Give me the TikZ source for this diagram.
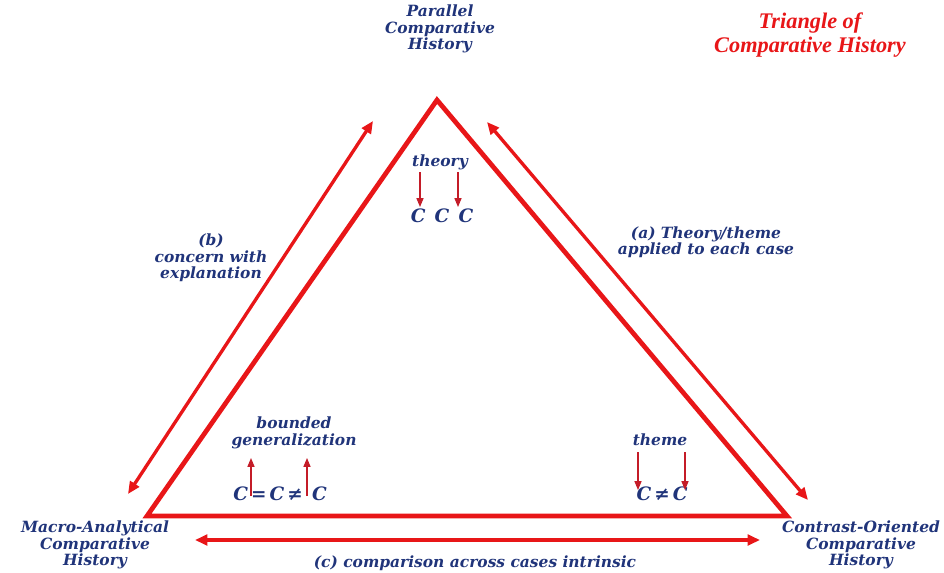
\documentclass[tikz,border=0pt]{standalone}
\usepackage{fontspec}
\usetikzlibrary{arrows.meta}
\newfontfamily\lblfont{DejaVu Serif}
\newfontfamily\ttlfont{Liberation Serif}
\definecolor{navy}{RGB}{32,52,122}
\definecolor{trired}{RGB}{232,22,24}
\definecolor{tipred}{RGB}{196,28,40}

\tikzset{
  lbl/.style={text=navy,font=\lblfont\bfseries\itshape\fontsize{8.8}{9.3}\selectfont,
    align=center,inner sep=0pt},
  cee/.style={text=navy,font=\lblfont\bfseries\itshape\fontsize{10.5}{11}\selectfont,inner sep=0pt},
  ttl/.style={text=trired,font=\ttlfont\bfseries\itshape\fontsize{12.7}{13.6}\selectfont,
    align=center,inner sep=0pt},
  outer/.style={trired,line width=1.9pt,
    {Triangle[length=7pt,width=6pt]}-{Triangle[length=7pt,width=6pt]}},
  inner/.style={tipred,line width=0.6pt,-{Triangle[length=5pt,width=4pt]}}
}

\begin{document}
\begin{tikzpicture}[x=0.02cm,y=-0.02cm]
\useasboundingbox (0,0) rectangle (944,572);

% triangle
\coordinate (top) at (437,100);
\coordinate (lft) at (147,516);
\coordinate (rgt) at (787,516);
\draw[trired,line width=2.7pt,line join=miter] (top) -- (lft) -- (rgt) -- cycle;

% vertex labels
\node[lbl] (par) at (440,29) {Parallel\\Comparative\\History};
\node[lbl] (mac) at (95,545) {Macro-Analytical\\Comparative\\History};
\node[lbl] (con) at (861,545) {Contrast-Oriented\\Comparative\\History};
\node[ttl] (title) at (810,35) {Triangle of\\Comparative History};

% outer arrows
\coordinate (b1) at (373,121);
\coordinate (b2) at (128,494);
\coordinate (a1) at (487,122);
\coordinate (a2) at (808,500);
\coordinate (c1) at (195,540);
\coordinate (c2) at (760,540);
\draw[outer] (b1) -- (b2);
\draw[outer] (a1) -- (a2);
\draw[outer] (c1) -- (c2);
\node[lbl] (lblb) at (211,258) {(b)\\concern with\\explanation};
\node[lbl] (lbla) at (706,242) {(a) Theory/theme\\applied to each case};
\node[lbl] (lblc) at (475,563) {(c) comparison across cases intrinsic};

% parallel
\node[lbl] (theory) at (440,162) {theory};
\node[cee] (ccc) at (442,216) {C\enspace C\enspace C};
\coordinate (t1) at (420,172);
\coordinate (t2) at (458,172);
\coordinate (u1) at (420,207);
\coordinate (u2) at (458,207);
\draw[inner] (t1) -- (u1);
\draw[inner] (t2) -- (u2);

% macro-analytical
\node[lbl] (bounded) at (294,433) {bounded\\generalization};
\node[cee] (eqc) at (280,494) {C\,=\,C\,≠\enspace C};
\coordinate (g1) at (251,496);
\coordinate (g2) at (307,496);
\coordinate (h1) at (251,458);
\coordinate (h2) at (307,458);
\draw[inner] (g1) -- (h1);
\draw[inner] (g2) -- (h2);

% contrast-oriented
\node[lbl] (theme) at (660,440) {theme};
\node[cee] (nec) at (662,494) {C\,≠\,C};
\coordinate (m1) at (638,452);
\coordinate (m2) at (685,452);
\coordinate (n1) at (638,490);
\coordinate (n2) at (685,490);
\draw[inner] (m1) -- (n1);
\draw[inner] (m2) -- (n2);
\end{tikzpicture}
\end{document}
